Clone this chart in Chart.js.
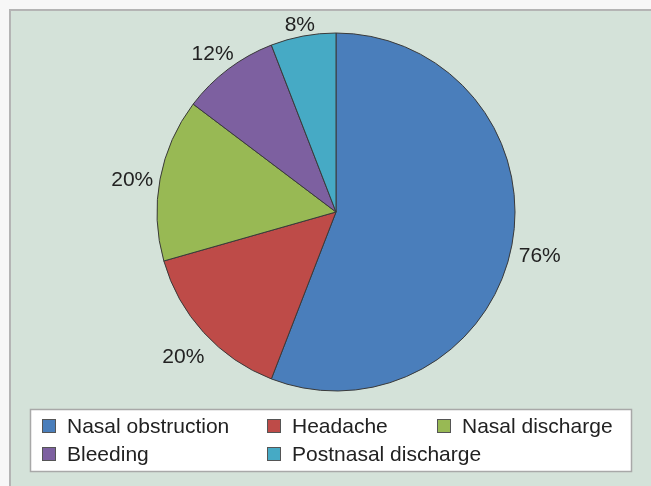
<!DOCTYPE html>
<html>
<head>
<meta charset="utf-8">
<script src="https://cdn.jsdelivr.net/npm/chart.js@4/dist/chart.umd.min.js"></script>
<style>
  html, body { margin: 0; padding: 0; background: #f7f7f7; }
  #wrap { width: 651px; height: 486px; }
</style>
</head>
<body>
<div id="wrap"><canvas id="pie" width="651" height="486"></canvas></div>
<script>
const categories = ['Nasal obstruction', 'Headache', 'Nasal discharge', 'Bleeding', 'Postnasal discharge'];
const percentValues = [76, 20, 20, 12, 8];
const sliceColors = ['#4a7ebb', '#be4b48', '#98b954', '#7d60a0', '#46aac5'];

const FONT = '"Liberation Sans", Arial, sans-serif';
const TEXT = '#222222';

// panel background with the grey frame on top and left
const panelBg = {
    id: 'panelBg',
    beforeDraw(chart) {
        const { ctx, width, height } = chart;
        ctx.save();
        ctx.fillStyle = '#f7f7f7';
        ctx.fillRect(0, 0, width, height);
        ctx.fillStyle = '#d4e2d9';
        ctx.fillRect(10, 10, width - 10, height - 10);
        ctx.strokeStyle = '#b4b4b4';
        ctx.lineWidth = 2;
        ctx.beginPath();
        ctx.moveTo(10, height);
        ctx.lineTo(10, 10);
        ctx.lineTo(width, 10);
        ctx.stroke();
        ctx.restore();
    }
};

// percent labels just outside each slice, like excel's outside end
const outsideLabels = {
    id: 'outsideLabels',
    afterDatasetsDraw(chart) {
        const { ctx } = chart;
        const arcs = chart.getDatasetMeta(0).data;
        ctx.save();
        ctx.font = '21px ' + FONT;
        ctx.fillStyle = TEXT;
        ctx.textAlign = 'center';
        ctx.textBaseline = 'middle';
        arcs.forEach((arc, i) => {
            const mid = (arc.startAngle + arc.endAngle) / 2;
            const dx = Math.cos(mid), dy = Math.sin(mid);
            const txt = percentValues[i] + '%';
            const w = ctx.measureText(txt).width, h = 18;
            const dist = arc.outerRadius + 6 + Math.abs(dx) * w / 2 + Math.abs(dy) * h / 2;
            ctx.fillText(txt, arc.x + dx * dist, arc.y + dy * dist + 6);
        });
        ctx.restore();
    }
};

// legend box drawn as a 3-column grid
const gridLegend = {
    id: 'gridLegend',
    afterDraw(chart) {
        const { ctx } = chart;
        const colX = [42, 267, 437];
        const rowY = [426, 454];
        ctx.save();
        ctx.fillStyle = '#ffffff';
        ctx.fillRect(30, 409, 601, 62);
        ctx.strokeStyle = '#a8a8a8';
        ctx.lineWidth = 1.5;
        ctx.strokeRect(30.5, 409.5, 601, 62);
        ctx.font = '21px ' + FONT;
        ctx.textBaseline = 'middle';
        ctx.textAlign = 'left';
        categories.forEach((name, i) => {
            const x = colX[i % 3], y = rowY[Math.floor(i / 3)];
            ctx.fillStyle = sliceColors[i];
            ctx.fillRect(x, y - 7, 14, 14);
            ctx.strokeStyle = '#555';
            ctx.lineWidth = 1;
            ctx.strokeRect(x + 0.5, y - 6.5, 13, 13);
            ctx.fillStyle = TEXT;
            ctx.fillText(name, x + 25, y + 1);
        });
        ctx.restore();
    }
};

new Chart(document.getElementById('pie'), {
    type: 'pie',
    data: {
        labels: categories,
        datasets: [{
            data: percentValues,
            backgroundColor: sliceColors,
            borderColor: '#3a3a3a',
            borderWidth: 1
        }]
    },
    options: {
        responsive: false,
        animation: false,
        radius: 179,
        layout: { padding: { left: 31, right: 10, top: 10, bottom: 72 } },
        plugins: {
            legend: { display: false },
            tooltip: { enabled: false }
        }
    },
    plugins: [panelBg, outsideLabels, gridLegend]
});
</script>
</body>
</html>
